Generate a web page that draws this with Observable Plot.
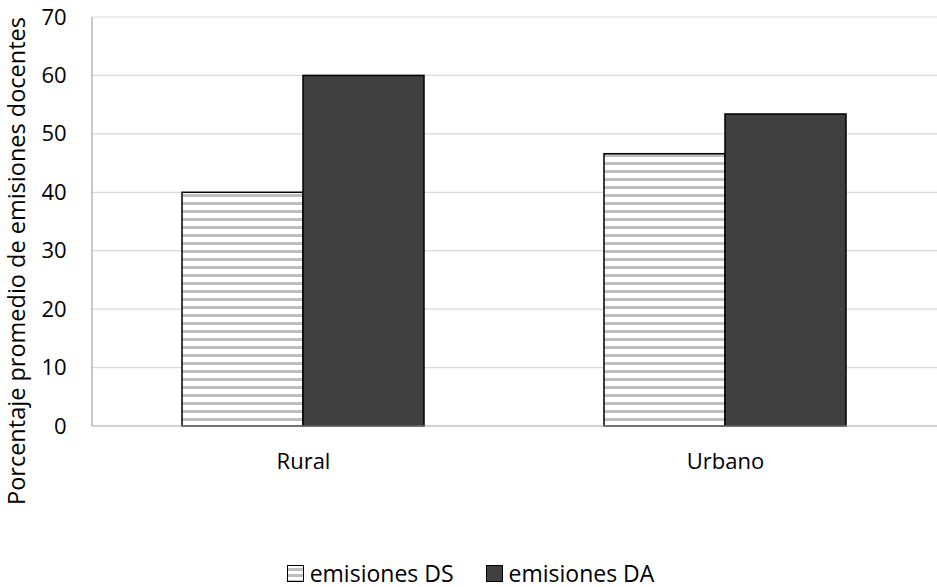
<!DOCTYPE html>
<html>
<head>
<meta charset="utf-8">
<script src="https://cdn.jsdelivr.net/npm/d3@7"></script>
<script src="https://cdn.jsdelivr.net/npm/@observablehq/plot@0.6"></script>
<style>
  body { margin: 0; background: #fff; font-family: "Open Sans", "Noto Sans", sans-serif; }
  #chart { width: 937px; height: 587px; position: relative; overflow: hidden; }
  .legend { position: absolute; left: 0; top: 560px; width: 937px; height: 26px; line-height: 1; display: flex; justify-content: center; align-items: center; gap: 32px; font-size: 23px; color: #000; padding-left: 4px; box-sizing: border-box; }
  .legend span.item { display: flex; align-items: center; gap: 6px; line-height: 1; }
  .sw { width: 17px; height: 17px; border: 1.5px solid #000; box-sizing: border-box; }
</style>
</head>
<body>
<div id="chart"></div>
<script>
const categories = ["Rural", "Urbano"];
const series = ["emisiones DS", "emisiones DA"];
const valuesDS = [40, 46.6];
const valuesDA = [60, 53.4];
const yTicks = [0, 10, 20, 30, 40, 50, 60, 70];

const data = [];
categories.forEach((c, i) => {
  data.push({ cat: c, serie: series[0], value: valuesDS[i] });
  data.push({ cat: c, serie: series[1], value: valuesDA[i] });
});

const W = 937, H = 548, mL = 92, mR = 0, mT = 17, mB = 122;
const pIn = 0.4255, pOut = 0.2128;
// the y axis is drawn at the left edge of the first facet; push its labels back to the frame edge
const step = (W - mL - mR) / (categories.length - pIn + 2 * pOut);
const facetOffset = pOut * step;

const plot = Plot.plot({
  width: W,
  height: H,
  marginTop: mT,
  marginBottom: mB,
  marginLeft: mL,
  marginRight: mR,
  style: { fontFamily: "'Open Sans', 'Noto Sans', sans-serif", fontSize: "22px", color: "#000", background: "#fff" },
  fx: { domain: categories, paddingInner: pIn, paddingOuter: pOut, label: null },
  x: { domain: series, padding: 0, axis: null },
  y: { domain: [0, 70], ticks: yTicks, label: null },
  marks: [
    Plot.barY(data, {
      fx: "cat", x: "serie", y: "value",
      fill: d => d.serie === series[0] ? "url(#stripes)" : "#404040",
      stroke: "#000", strokeWidth: 1.5
    }),
    Plot.axisY(yTicks, { tickSize: 0, tickPadding: 26 + facetOffset, fontSize: 22, anchor: "left" }),
    Plot.axisFx({ tickSize: 0, tickPadding: 27, fontSize: 22, anchor: "bottom", label: null })
  ]
});

const yScale = plot.scale("y");
const svg = d3.select(plot);
const defs = svg.insert("defs", ":first-child");
const pat = defs.append("pattern").attr("id", "stripes").attr("patternUnits", "userSpaceOnUse")
  .attr("width", 8).attr("height", 8);
pat.append("rect").attr("width", 8).attr("height", 8).attr("fill", "#ffffff");
pat.append("rect").attr("y", 2).attr("width", 8).attr("height", 3).attr("fill", "#bfbfbf");

const yTop = yScale.apply(70), yBot = yScale.apply(0);
// grid lines across full width, drawn under the bars
const grid = svg.insert("g", "defs + *");
yTicks.filter(t => t > 0).forEach(t => {
  const y = yScale.apply(t);
  grid.append("line").attr("x1", mL).attr("x2", W).attr("y1", y).attr("y2", y)
    .attr("stroke", "#d9d9d9").attr("stroke-width", 1.2);
});
// axis lines
svg.append("line").attr("x1", mL).attr("x2", mL).attr("y1", yTop).attr("y2", yBot).attr("stroke", "#a6a6a6").attr("stroke-width", 1.2);
svg.append("line").attr("x1", mL).attr("x2", W).attr("y1", yBot).attr("y2", yBot).attr("stroke", "#a6a6a6").attr("stroke-width", 1.2);
// y axis title
svg.append("text").attr("transform", `translate(25,261) rotate(-90)`)
  .attr("text-anchor", "middle").attr("font-size", 23.5).attr("fill", "#000")
  .text("Porcentaje promedio de emisiones docentes");

document.getElementById("chart").appendChild(plot);

const legend = document.createElement("div");
legend.className = "legend";
legend.innerHTML = `<span class="item"><span class="sw" style="background: repeating-linear-gradient(to bottom, #fff 0 2px, #bfbfbf 2px 5px, #fff 5px 6px);"></span>${series[0]}</span>` +
  `<span class="item"><span class="sw" style="background:#404040"></span>${series[1]}</span>`;
document.getElementById("chart").appendChild(legend);
</script>
</body>
</html>
